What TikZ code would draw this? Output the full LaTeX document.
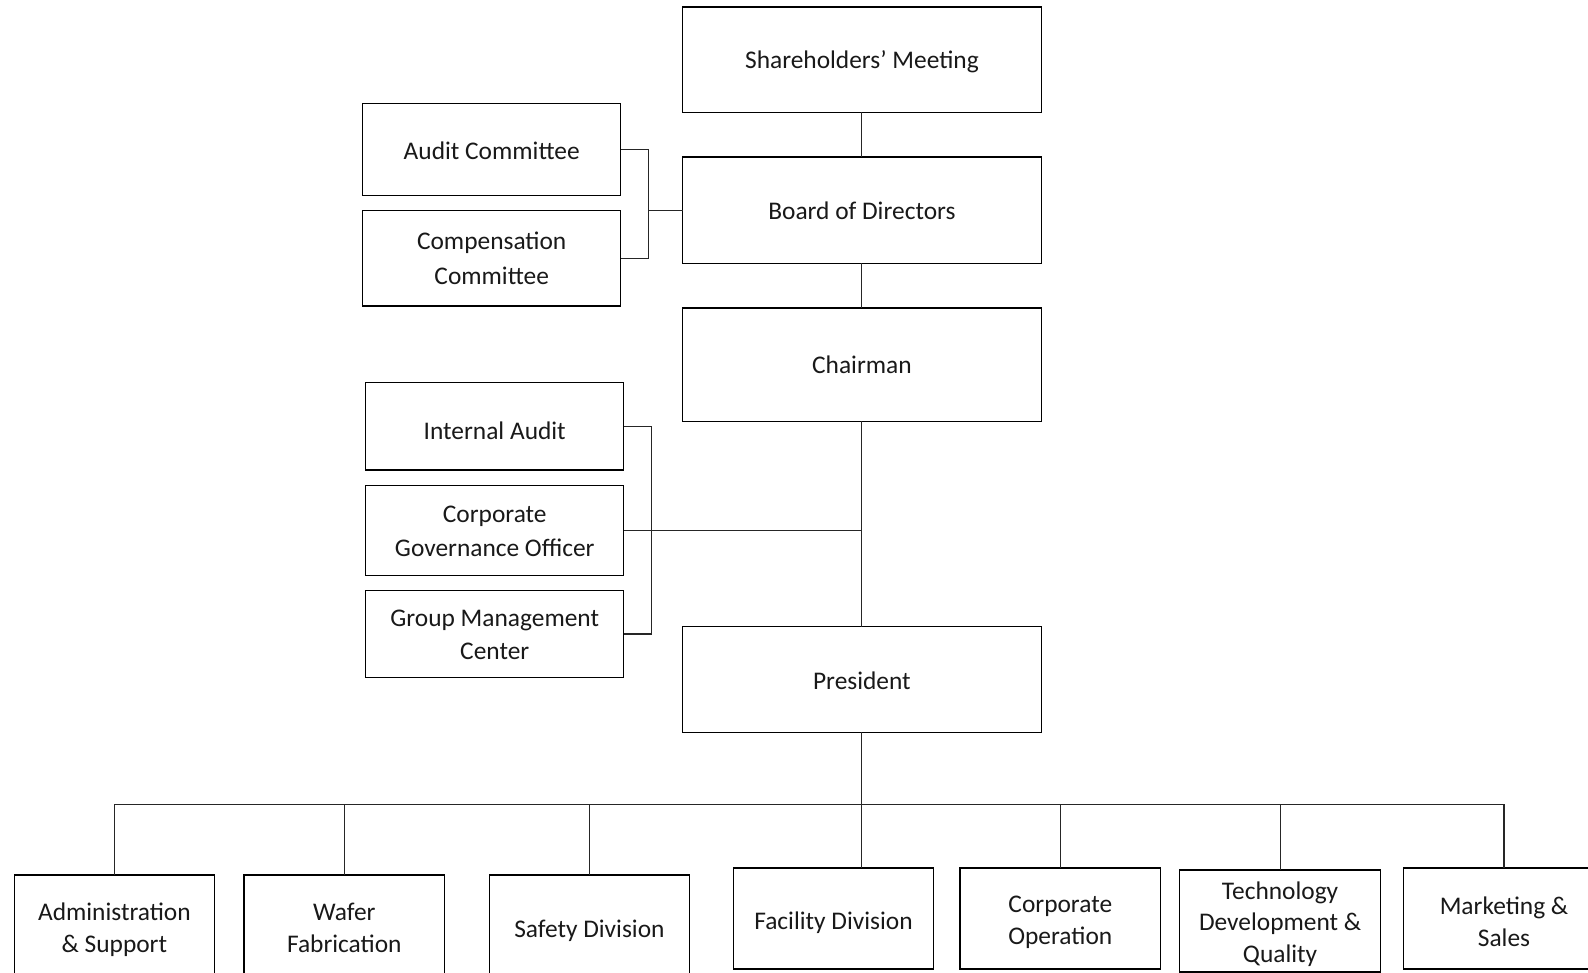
\documentclass[tikz,border=0pt]{standalone}
\usepackage{fontspec}
\setmainfont{Carlito}
\begin{document}
\begin{tikzpicture}[x=0.5pt,y=-0.5pt,
  box/.style={draw=black,line width=0.6pt,fill=white,inner sep=0pt,outer sep=0pt},
  topbox/.style={box,minimum width=179.25pt},
  sidebox/.style={box,minimum width=129.1pt},
  botbox/.style={box,minimum width=100.25pt},
  lbl/.style={inner sep=0pt,align=center,text=black!90,font=\fontsize{12.7}{17.8}\selectfont},
  blbl/.style={lbl,font=\fontsize{12.7}{15.8}\selectfont},
  link/.style={draw=black!85,line width=0.55pt}]
\useasboundingbox (0,0) rectangle (1588,973);
\fill[white] (0,0) rectangle (1588,973);
\clip (0,0) rectangle (1588,973);
% top column
\node[topbox,minimum height=52.65pt] (sh) at (861.9,59.75) {};
\node[topbox,minimum height=53.15pt] (board) at (861.9,210.2) {};
\node[topbox,minimum height=56.7pt] (chair) at (861.9,364.6) {};
\node[topbox,minimum height=52.65pt] (pres) at (861.9,679.5) {};
\node[lbl] (sht) at ([yshift=-1pt]sh.center) {Shareholders’ Meeting};
\node[lbl] (boardt) at ([yshift=-0.5pt]board.center) {Board of Directors};
\node[lbl] (chairt) at (chair.center) {Chairman};
\node[lbl] (prest) at ([yshift=-0.5pt]pres.center) {President};
% committees
\node[sidebox,minimum height=46.1pt] (aud) at (491.7,149.4) {};
\node[sidebox,minimum height=47.6pt] (comp) at (491.7,258.3) {};
\node[lbl] (audt) at ([yshift=-0.5pt]aud.center) {Audit Committee};
\node[lbl] (compt) at (comp.center) {Compensation\\Committee};
% staff
\node[sidebox,minimum height=43.55pt] (ia) at (494.75,426.35) {};
\node[sidebox,minimum height=45.1pt] (cgo) at (494.75,530.2) {};
\node[sidebox,minimum height=43.55pt] (gmc) at (494.75,634) {};
\node[lbl] (iat) at ([yshift=-2pt]ia.center) {Internal Audit};
\node[lbl,font=\fontsize{12.7}{17.2}\selectfont] (cgot) at ([yshift=-0.5pt]cgo.center) {Corporate\\Governance Officer};
\node[lbl,font=\fontsize{12.7}{16.2}\selectfont] (gmct) at ([yshift=-0.5pt]gmc.center) {Group Management\\Center};
% bottom row
\node[botbox,minimum height=53pt] (adm) at (114.4,928) {};
\node[botbox,minimum height=53pt] (waf) at (344.3,928) {};
\node[botbox,minimum height=53pt] (saf) at (589.4,928) {};
\node[botbox,minimum height=50.5pt] (fac) at (833.5,918.5) {};
\node[botbox,minimum height=50.5pt] (cop) at (1060.3,918.5) {};
\node[botbox,minimum height=51pt] (tech) at (1280.1,921) {};
\node[botbox,minimum height=50.5pt] (mkt) at (1504,918.5) {};
\node[blbl] (admt) at ([yshift=-1pt]adm.center) {Administration\\\& Support};
\node[blbl] (waft) at (waf.center) {Wafer\\Fabrication};
\node[blbl] (saft) at ([yshift=-1.5pt]saf.center) {Safety Division};
\node[blbl] (fact) at ([yshift=-2pt]fac.center) {Facility Division};
\node[blbl] (copt) at ([yshift=-2pt]cop.center) {Corporate\\Operation};
\node[blbl] (techt) at ([yshift=-1.5pt]tech.center) {Technology\\Development \&\\Quality};
\node[blbl] (mktt) at ([yshift=-1.5pt]mkt.center) {Marketing \&\\Sales};
% coordinates
\coordinate (bk1) at (648.2,210.2);
\coordinate (bk2) at (651.2,530.2);
\coordinate (bus) at (861.9,804.1);
% connectors
\draw[link] (sh.south) -- (board.north);
\draw[link] (board.south) -- (chair.north);
\draw[link] (chair.south) -- (pres.north);
\draw[link] (aud.east) -| (bk1) |- (comp.east);
\draw[link] (bk1) -- (board.west);
\draw[link] (ia.east) -| (bk2) |- (gmc.east);
\draw[link] (cgo.east) -- (cgo.east -| chair.south);
\draw[link] (pres.south) -- (bus);
\draw[link] (adm.north) |- (bus) -| (mkt.north);
\draw[link] (waf.north) -- (waf.north |- bus);
\draw[link] (saf.north) -- (saf.north |- bus);
\draw[link] (bus) -- (bus |- fac.north);
\draw[link] (cop.north) -- (cop.north |- bus);
\draw[link] (tech.north) -- (tech.north |- bus);
\end{tikzpicture}
\end{document}
